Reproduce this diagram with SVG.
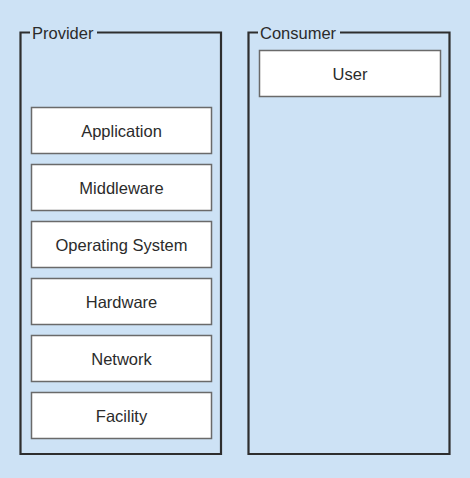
<svg xmlns="http://www.w3.org/2000/svg" width="470" height="478" viewBox="0 0 470 478">
<style>
.frame{fill:none;stroke:#2e2e2e;stroke-width:2.2}
.box{fill:#ffffff;stroke:#6a6a6a;stroke-width:1.5}
.t{font-family:"Liberation Sans",Arial,sans-serif;font-size:16.5px;fill:#2b2b2b;text-anchor:middle}
.lbl{font-family:"Liberation Sans",Arial,sans-serif;font-size:16.5px;fill:#2b2b2b}
</style>
<rect x="0" y="0" width="470" height="478" fill="#cde2f5"/>
<g id="provider">
<path class="frame" d="M30,32.5 H20.5 V454 H221 V32.5 H97"/>
<text class="lbl" x="32" y="38.5">Provider</text>
</g>
<g id="consumer">
<path class="frame" d="M258,32.5 H248.5 V454 H449.5 V32.5 H340"/>
<text class="lbl" x="260" y="38.5">Consumer</text>
</g>
<g id="user"><rect class="box" x="259.5" y="50.5" width="181" height="46"/><text class="t" x="350" y="79.5">User</text></g>
<g id="application"><rect class="box" x="31.5" y="107.5" width="180" height="46"/><text class="t" x="121.5" y="136.5">Application</text></g>
<g id="middleware"><rect class="box" x="31.5" y="164.5" width="180" height="46"/><text class="t" x="121.5" y="193.5">Middleware</text></g>
<g id="os"><rect class="box" x="31.5" y="221.5" width="180" height="46"/><text class="t" x="121.5" y="250.5">Operating System</text></g>
<g id="hardware"><rect class="box" x="31.5" y="278.5" width="180" height="46"/><text class="t" x="121.5" y="307.5">Hardware</text></g>
<g id="network"><rect class="box" x="31.5" y="335.5" width="180" height="46"/><text class="t" x="121.5" y="364.5">Network</text></g>
<g id="facility"><rect class="box" x="31.5" y="392.5" width="180" height="46"/><text class="t" x="121.5" y="421.5">Facility</text></g>
<g id="connectors"></g>
</svg>
